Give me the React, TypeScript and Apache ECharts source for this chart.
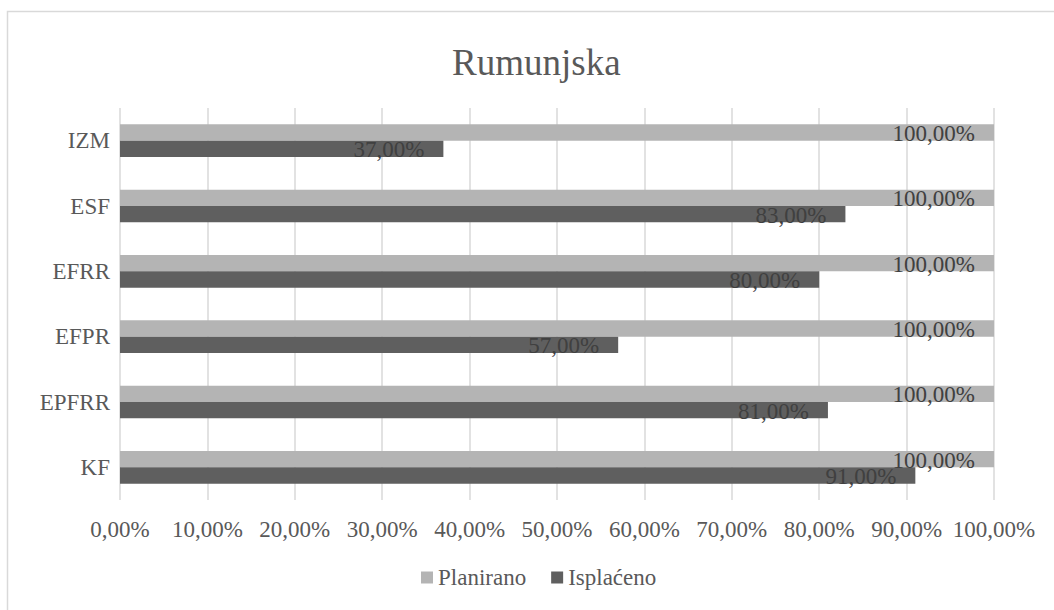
import React, { useEffect, useRef } from "react";
import * as echarts from "echarts";

const categories = ["KF", "EPFRR", "EFPR", "EFRR", "ESF", "IZM"];
const planirano = [100, 100, 100, 100, 100, 100];
const isplaceno = [91, 81, 57, 80, 83, 37];
const xTicks = { min: 0, max: 100, interval: 10 };

const FONT = "Liberation Serif";
const fmt = (v: number) => v.toFixed(2).replace(".", ",") + "%";

export default function App() {
  const ref = useRef<HTMLDivElement>(null);
  useEffect(() => {
    document.body.style.margin = "0";
    const chart = echarts.init(ref.current!, null, { renderer: "svg" });
    const labelCfg = {
      show: true,
      position: "insideRight" as const,
      distance: 19,
      offset: [0, 1],
      color: "#404040",
      fontFamily: FONT,
      fontSize: 23,
      formatter: (p: any) => fmt(p.value),
    };
    chart.setOption({
      animation: false,
      backgroundColor: "#ffffff",
      textStyle: { fontFamily: FONT },
      title: {
        text: "Rumunjska",
        left: 447,
        top: 39,
        textStyle: { fontFamily: FONT, fontSize: 37, fontWeight: "normal", color: "#595959" },
      },
      legend: {
        data: ["Planirano", "Isplaćeno"],
        bottom: 16,
        left: 416,
        icon: "rect",
        itemWidth: 12,
        itemHeight: 12,
        itemGap: 25,
        textStyle: { fontFamily: FONT, fontSize: 23, color: "#595959" },
      },
      grid: { left: 120, right: 60, top: 108, bottom: 110, containLabel: false },
      xAxis: {
        type: "value",
        min: xTicks.min,
        max: xTicks.max,
        interval: xTicks.interval,
        axisLine: { show: false },
        axisTick: { show: false },
        splitLine: { show: true, lineStyle: { color: "#d9d9d9", width: 1.5 } },
        axisLabel: {
          margin: 18,
          color: "#595959",
          fontFamily: FONT,
          fontSize: 23,
          formatter: (v: number) => fmt(v),
        },
      },
      yAxis: {
        type: "category",
        data: categories,
        axisLine: { show: false },
        axisTick: { show: false },
        axisLabel: { margin: 10, color: "#595959", fontFamily: FONT, fontSize: 23 },
      },
      series: [
        {
          name: "Planirano",
          type: "bar",
          data: planirano,
          barGap: "0%",
          barCategoryGap: "50%",
          itemStyle: { color: "#b4b4b4" },
          label: labelCfg,
        },
        {
          name: "Isplaćeno",
          type: "bar",
          data: isplaceno,
          barGap: "0%",
          barCategoryGap: "50%",
          itemStyle: { color: "#5f5f5f" },
          label: labelCfg,
        },
      ],
      graphic: [
        {
          type: "rect",
          shape: { x: 7.5, y: 11.5, width: 1100, height: 700 },
          style: { fill: "none", stroke: "#d9d9d9", lineWidth: 1.5 },
          silent: true,
        },
      ],
    });
    return () => chart.dispose();
  }, []);
  return (
    <div
      ref={ref}
      style={{ position: "fixed", left: 0, top: 0, width: 1054, height: 610 }}
    />
  );
}
